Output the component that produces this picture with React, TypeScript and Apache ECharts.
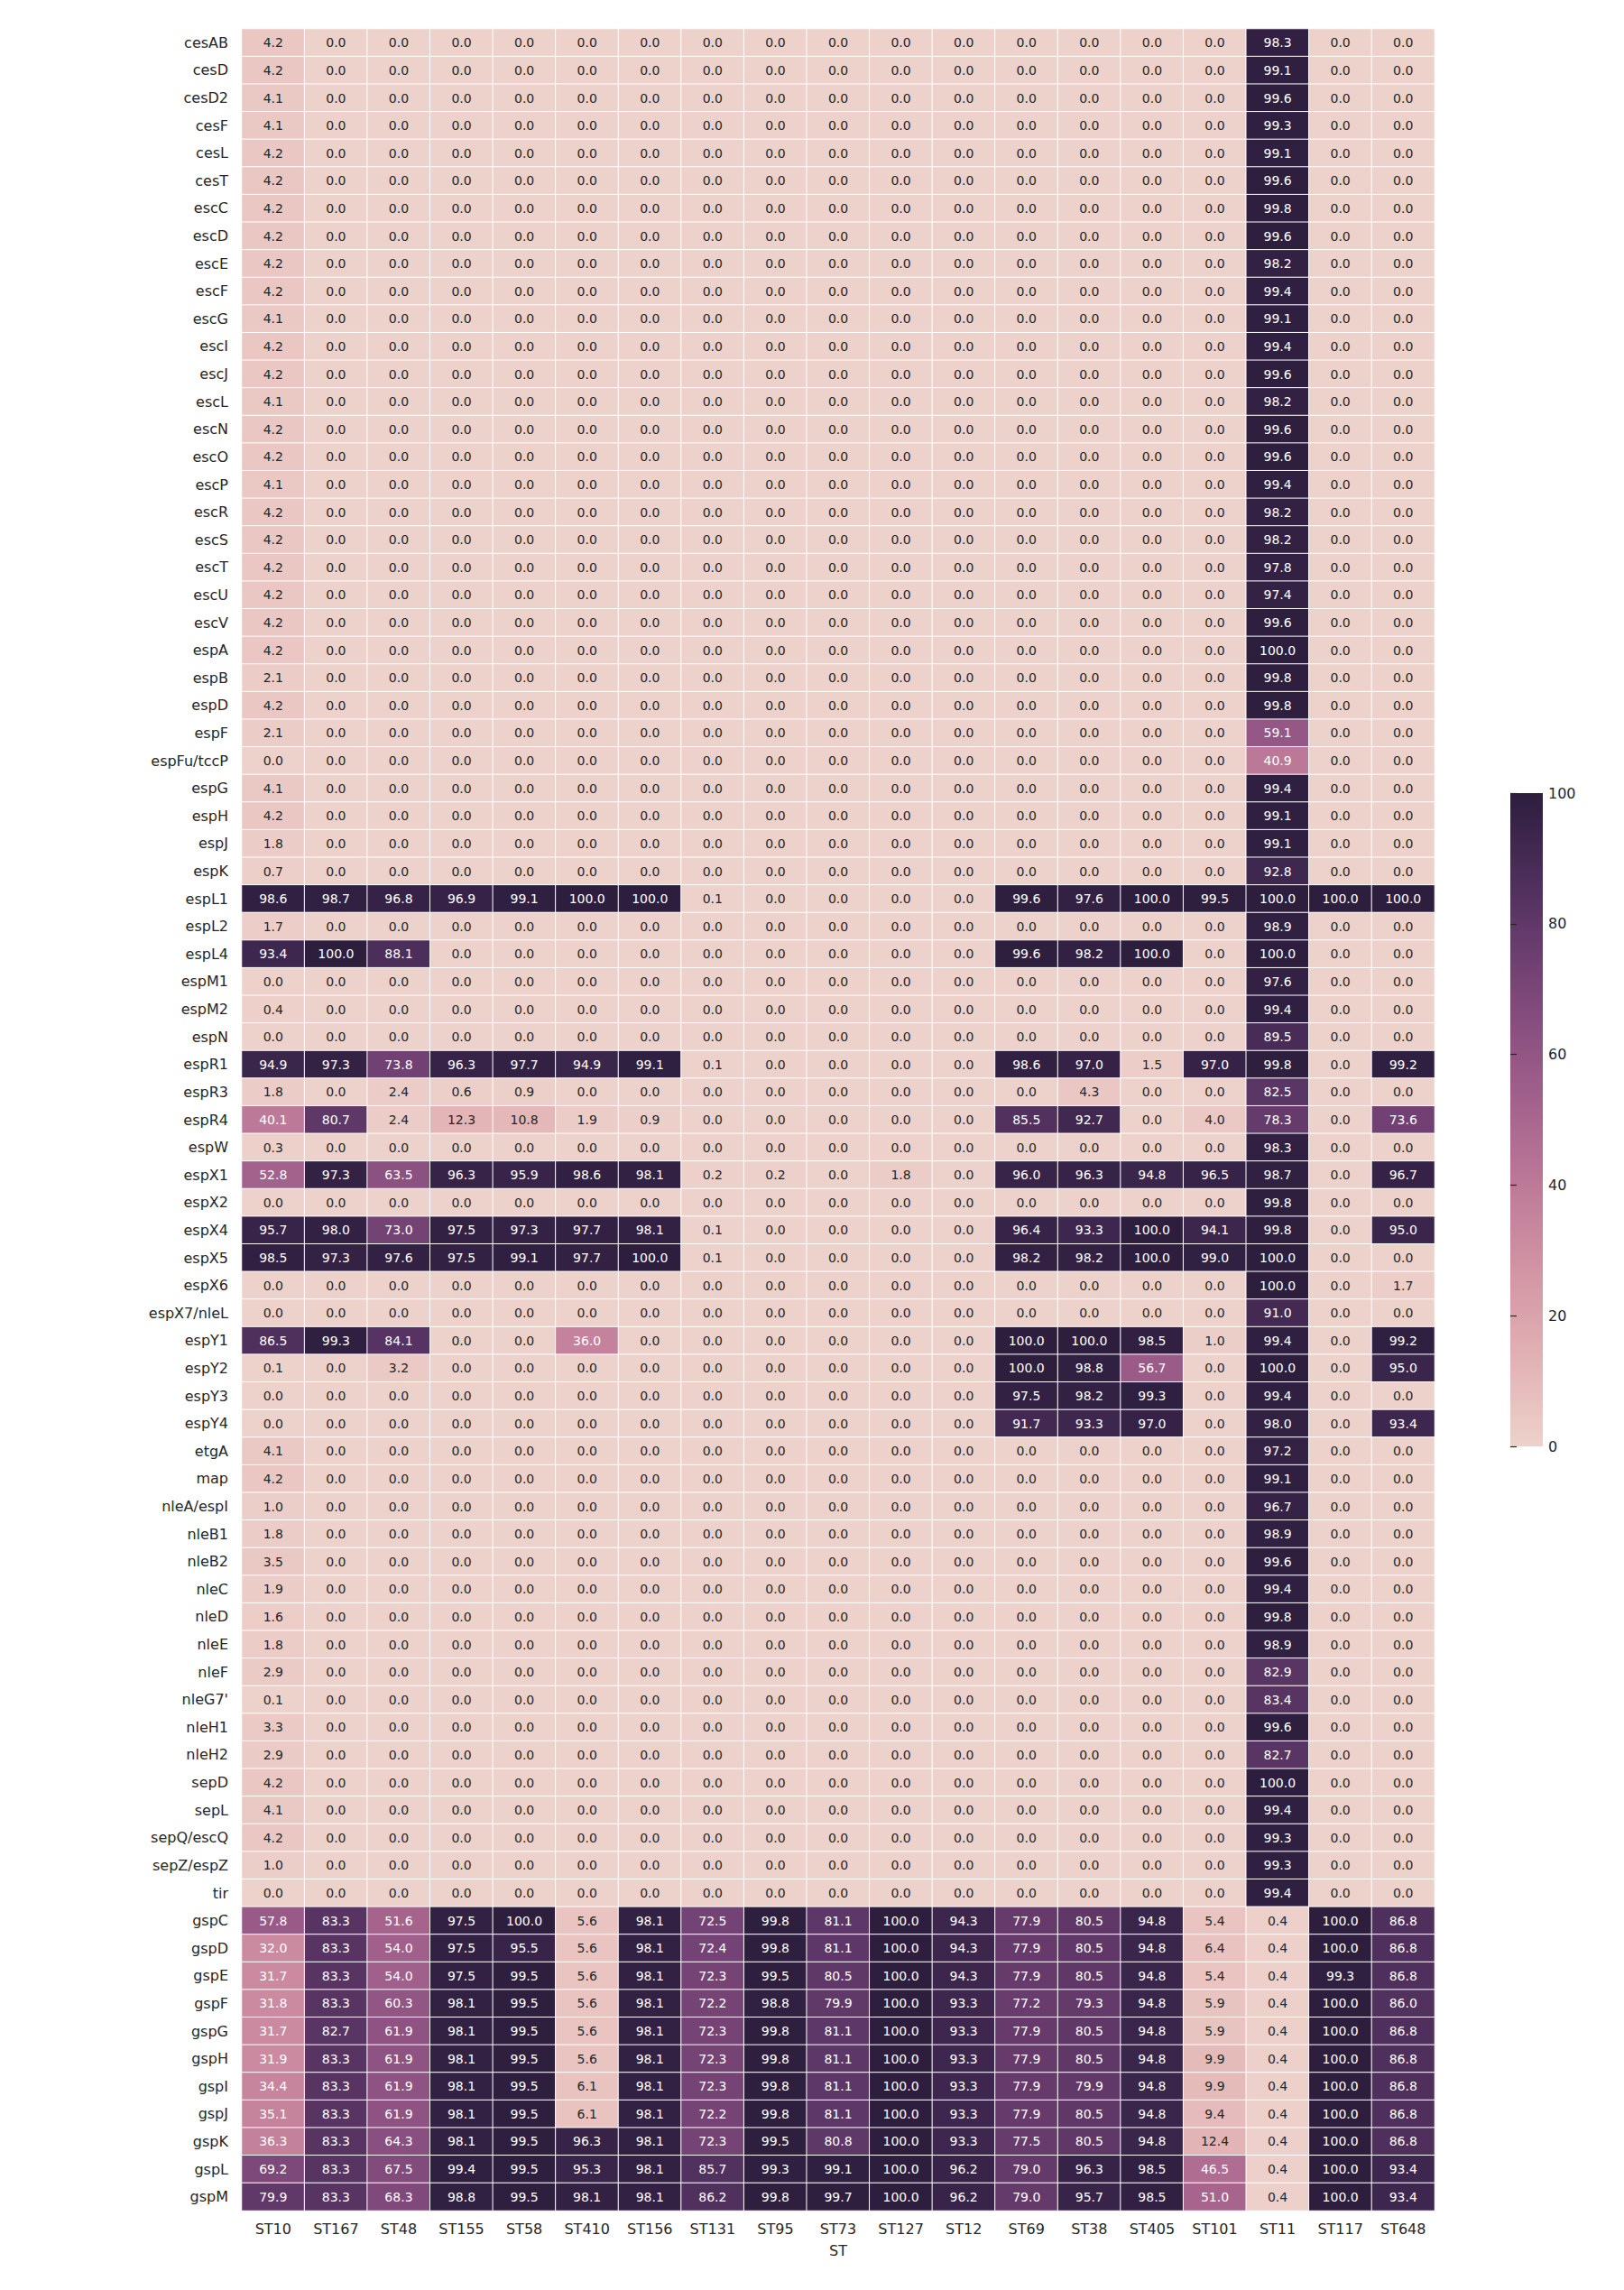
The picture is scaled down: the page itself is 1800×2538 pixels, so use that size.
import React, { useEffect, useRef } from "react";
import * as echarts from "echarts";

const genes = [
  "cesAB", "cesD", "cesD2", "cesF", "cesL", "cesT", "escC", "escD", "escE", "escF",
  "escG", "escI", "escJ", "escL", "escN", "escO", "escP", "escR", "escS", "escT",
  "escU", "escV", "espA", "espB", "espD", "espF", "espFu/tccP", "espG", "espH", "espJ",
  "espK", "espL1", "espL2", "espL4", "espM1", "espM2", "espN", "espR1", "espR3", "espR4",
  "espW", "espX1", "espX2", "espX4", "espX5", "espX6", "espX7/nleL", "espY1", "espY2", "espY3",
  "espY4", "etgA", "map", "nleA/espI", "nleB1", "nleB2", "nleC", "nleD", "nleE", "nleF",
  "nleG7'", "nleH1", "nleH2", "sepD", "sepL", "sepQ/escQ", "sepZ/espZ", "tir", "gspC", "gspD",
  "gspE", "gspF", "gspG", "gspH", "gspI", "gspJ", "gspK", "gspL", "gspM",
];

const stTypes = [
  "ST10", "ST167", "ST48", "ST155", "ST58", "ST410", "ST156", "ST131", "ST95", "ST73",
  "ST127", "ST12", "ST69", "ST38", "ST405", "ST101", "ST11", "ST117", "ST648",
];

// Each array: one ST column, rows in the order of `genes`
// rows 0-30 (cesAB..espK), 31-50 (espL1..espY4), 51-67 (etgA..tir), 68-78 (gspC..gspM)
const st10 = [
  4.2, 4.2, 4.1, 4.1, 4.2, 4.2, 4.2, 4.2, 4.2, 4.2, 4.1, 4.2, 4.2, 4.1, 4.2, 4.2, 4.1, 4.2, 4.2, 4.2, 4.2, 4.2, 4.2, 2.1, 4.2, 2.1, 0.0, 4.1, 4.2, 1.8, 0.7,
  98.6, 1.7, 93.4, 0.0, 0.4, 0.0, 94.9, 1.8, 40.1, 0.3, 52.8, 0.0, 95.7, 98.5, 0.0, 0.0, 86.5, 0.1, 0.0, 0.0,
  4.1, 4.2, 1.0, 1.8, 3.5, 1.9, 1.6, 1.8, 2.9, 0.1, 3.3, 2.9, 4.2, 4.1, 4.2, 1.0, 0.0,
  57.8, 32.0, 31.7, 31.8, 31.7, 31.9, 34.4, 35.1, 36.3, 69.2, 79.9,
];
const st167 = [
  0, 0, 0, 0, 0, 0, 0, 0, 0, 0, 0, 0, 0, 0, 0, 0, 0, 0, 0, 0, 0, 0, 0, 0, 0, 0, 0, 0, 0, 0, 0,
  98.7, 0, 100.0, 0, 0, 0, 97.3, 0, 80.7, 0, 97.3, 0, 98.0, 97.3, 0, 0, 99.3, 0, 0, 0,
  0, 0, 0, 0, 0, 0, 0, 0, 0, 0, 0, 0, 0, 0, 0, 0, 0,
  83.3, 83.3, 83.3, 83.3, 82.7, 83.3, 83.3, 83.3, 83.3, 83.3, 83.3,
];
const st48 = [
  0, 0, 0, 0, 0, 0, 0, 0, 0, 0, 0, 0, 0, 0, 0, 0, 0, 0, 0, 0, 0, 0, 0, 0, 0, 0, 0, 0, 0, 0, 0,
  96.8, 0, 88.1, 0, 0, 0, 73.8, 2.4, 2.4, 0, 63.5, 0, 73.0, 97.6, 0, 0, 84.1, 3.2, 0, 0,
  0, 0, 0, 0, 0, 0, 0, 0, 0, 0, 0, 0, 0, 0, 0, 0, 0,
  51.6, 54.0, 54.0, 60.3, 61.9, 61.9, 61.9, 61.9, 64.3, 67.5, 68.3,
];
const st155 = [
  0, 0, 0, 0, 0, 0, 0, 0, 0, 0, 0, 0, 0, 0, 0, 0, 0, 0, 0, 0, 0, 0, 0, 0, 0, 0, 0, 0, 0, 0, 0,
  96.9, 0, 0, 0, 0, 0, 96.3, 0.6, 12.3, 0, 96.3, 0, 97.5, 97.5, 0, 0, 0, 0, 0, 0,
  0, 0, 0, 0, 0, 0, 0, 0, 0, 0, 0, 0, 0, 0, 0, 0, 0,
  97.5, 97.5, 97.5, 98.1, 98.1, 98.1, 98.1, 98.1, 98.1, 99.4, 98.8,
];
const st58 = [
  0, 0, 0, 0, 0, 0, 0, 0, 0, 0, 0, 0, 0, 0, 0, 0, 0, 0, 0, 0, 0, 0, 0, 0, 0, 0, 0, 0, 0, 0, 0,
  99.1, 0, 0, 0, 0, 0, 97.7, 0.9, 10.8, 0, 95.9, 0, 97.3, 99.1, 0, 0, 0, 0, 0, 0,
  0, 0, 0, 0, 0, 0, 0, 0, 0, 0, 0, 0, 0, 0, 0, 0, 0,
  100.0, 95.5, 99.5, 99.5, 99.5, 99.5, 99.5, 99.5, 99.5, 99.5, 99.5,
];
const st410 = [
  0, 0, 0, 0, 0, 0, 0, 0, 0, 0, 0, 0, 0, 0, 0, 0, 0, 0, 0, 0, 0, 0, 0, 0, 0, 0, 0, 0, 0, 0, 0,
  100.0, 0, 0, 0, 0, 0, 94.9, 0, 1.9, 0, 98.6, 0, 97.7, 97.7, 0, 0, 36.0, 0, 0, 0,
  0, 0, 0, 0, 0, 0, 0, 0, 0, 0, 0, 0, 0, 0, 0, 0, 0,
  5.6, 5.6, 5.6, 5.6, 5.6, 5.6, 6.1, 6.1, 96.3, 95.3, 98.1,
];
const st156 = [
  0, 0, 0, 0, 0, 0, 0, 0, 0, 0, 0, 0, 0, 0, 0, 0, 0, 0, 0, 0, 0, 0, 0, 0, 0, 0, 0, 0, 0, 0, 0,
  100.0, 0, 0, 0, 0, 0, 99.1, 0, 0.9, 0, 98.1, 0, 98.1, 100.0, 0, 0, 0, 0, 0, 0,
  0, 0, 0, 0, 0, 0, 0, 0, 0, 0, 0, 0, 0, 0, 0, 0, 0,
  98.1, 98.1, 98.1, 98.1, 98.1, 98.1, 98.1, 98.1, 98.1, 98.1, 98.1,
];
const st131 = [
  0, 0, 0, 0, 0, 0, 0, 0, 0, 0, 0, 0, 0, 0, 0, 0, 0, 0, 0, 0, 0, 0, 0, 0, 0, 0, 0, 0, 0, 0, 0,
  0.1, 0, 0, 0, 0, 0, 0.1, 0, 0, 0, 0.2, 0, 0.1, 0.1, 0, 0, 0, 0, 0, 0,
  0, 0, 0, 0, 0, 0, 0, 0, 0, 0, 0, 0, 0, 0, 0, 0, 0,
  72.5, 72.4, 72.3, 72.2, 72.3, 72.3, 72.3, 72.2, 72.3, 85.7, 86.2,
];
const st95 = [
  0, 0, 0, 0, 0, 0, 0, 0, 0, 0, 0, 0, 0, 0, 0, 0, 0, 0, 0, 0, 0, 0, 0, 0, 0, 0, 0, 0, 0, 0, 0,
  0, 0, 0, 0, 0, 0, 0, 0, 0, 0, 0.2, 0, 0, 0, 0, 0, 0, 0, 0, 0,
  0, 0, 0, 0, 0, 0, 0, 0, 0, 0, 0, 0, 0, 0, 0, 0, 0,
  99.8, 99.8, 99.5, 98.8, 99.8, 99.8, 99.8, 99.8, 99.5, 99.3, 99.8,
];
const st73 = [
  0, 0, 0, 0, 0, 0, 0, 0, 0, 0, 0, 0, 0, 0, 0, 0, 0, 0, 0, 0, 0, 0, 0, 0, 0, 0, 0, 0, 0, 0, 0,
  0, 0, 0, 0, 0, 0, 0, 0, 0, 0, 0, 0, 0, 0, 0, 0, 0, 0, 0, 0,
  0, 0, 0, 0, 0, 0, 0, 0, 0, 0, 0, 0, 0, 0, 0, 0, 0,
  81.1, 81.1, 80.5, 79.9, 81.1, 81.1, 81.1, 81.1, 80.8, 99.1, 99.7,
];
const st127 = [
  0, 0, 0, 0, 0, 0, 0, 0, 0, 0, 0, 0, 0, 0, 0, 0, 0, 0, 0, 0, 0, 0, 0, 0, 0, 0, 0, 0, 0, 0, 0,
  0, 0, 0, 0, 0, 0, 0, 0, 0, 0, 1.8, 0, 0, 0, 0, 0, 0, 0, 0, 0,
  0, 0, 0, 0, 0, 0, 0, 0, 0, 0, 0, 0, 0, 0, 0, 0, 0,
  100.0, 100.0, 100.0, 100.0, 100.0, 100.0, 100.0, 100.0, 100.0, 100.0, 100.0,
];
const st12 = [
  0, 0, 0, 0, 0, 0, 0, 0, 0, 0, 0, 0, 0, 0, 0, 0, 0, 0, 0, 0, 0, 0, 0, 0, 0, 0, 0, 0, 0, 0, 0,
  0, 0, 0, 0, 0, 0, 0, 0, 0, 0, 0, 0, 0, 0, 0, 0, 0, 0, 0, 0,
  0, 0, 0, 0, 0, 0, 0, 0, 0, 0, 0, 0, 0, 0, 0, 0, 0,
  94.3, 94.3, 94.3, 93.3, 93.3, 93.3, 93.3, 93.3, 93.3, 96.2, 96.2,
];
const st69 = [
  0, 0, 0, 0, 0, 0, 0, 0, 0, 0, 0, 0, 0, 0, 0, 0, 0, 0, 0, 0, 0, 0, 0, 0, 0, 0, 0, 0, 0, 0, 0,
  99.6, 0, 99.6, 0, 0, 0, 98.6, 0, 85.5, 0, 96.0, 0, 96.4, 98.2, 0, 0, 100.0, 100.0, 97.5, 91.7,
  0, 0, 0, 0, 0, 0, 0, 0, 0, 0, 0, 0, 0, 0, 0, 0, 0,
  77.9, 77.9, 77.9, 77.2, 77.9, 77.9, 77.9, 77.9, 77.5, 79.0, 79.0,
];
const st38 = [
  0, 0, 0, 0, 0, 0, 0, 0, 0, 0, 0, 0, 0, 0, 0, 0, 0, 0, 0, 0, 0, 0, 0, 0, 0, 0, 0, 0, 0, 0, 0,
  97.6, 0, 98.2, 0, 0, 0, 97.0, 4.3, 92.7, 0, 96.3, 0, 93.3, 98.2, 0, 0, 100.0, 98.8, 98.2, 93.3,
  0, 0, 0, 0, 0, 0, 0, 0, 0, 0, 0, 0, 0, 0, 0, 0, 0,
  80.5, 80.5, 80.5, 79.3, 80.5, 80.5, 79.9, 80.5, 80.5, 96.3, 95.7,
];
const st405 = [
  0, 0, 0, 0, 0, 0, 0, 0, 0, 0, 0, 0, 0, 0, 0, 0, 0, 0, 0, 0, 0, 0, 0, 0, 0, 0, 0, 0, 0, 0, 0,
  100.0, 0, 100.0, 0, 0, 0, 1.5, 0, 0, 0, 94.8, 0, 100.0, 100.0, 0, 0, 98.5, 56.7, 99.3, 97.0,
  0, 0, 0, 0, 0, 0, 0, 0, 0, 0, 0, 0, 0, 0, 0, 0, 0,
  94.8, 94.8, 94.8, 94.8, 94.8, 94.8, 94.8, 94.8, 94.8, 98.5, 98.5,
];
const st101 = [
  0, 0, 0, 0, 0, 0, 0, 0, 0, 0, 0, 0, 0, 0, 0, 0, 0, 0, 0, 0, 0, 0, 0, 0, 0, 0, 0, 0, 0, 0, 0,
  99.5, 0, 0, 0, 0, 0, 97.0, 0, 4.0, 0, 96.5, 0, 94.1, 99.0, 0, 0, 1.0, 0, 0, 0,
  0, 0, 0, 0, 0, 0, 0, 0, 0, 0, 0, 0, 0, 0, 0, 0, 0,
  5.4, 6.4, 5.4, 5.9, 5.9, 9.9, 9.9, 9.4, 12.4, 46.5, 51.0,
];
const st11 = [
  98.3, 99.1, 99.6, 99.3, 99.1, 99.6, 99.8, 99.6, 98.2, 99.4, 99.1, 99.4, 99.6, 98.2, 99.6, 99.6, 99.4, 98.2, 98.2, 97.8, 97.4, 99.6, 100.0, 99.8, 99.8, 59.1, 40.9, 99.4, 99.1, 99.1, 92.8,
  100.0, 98.9, 100.0, 97.6, 99.4, 89.5, 99.8, 82.5, 78.3, 98.3, 98.7, 99.8, 99.8, 100.0, 100.0, 91.0, 99.4, 100.0, 99.4, 98.0,
  97.2, 99.1, 96.7, 98.9, 99.6, 99.4, 99.8, 98.9, 82.9, 83.4, 99.6, 82.7, 100.0, 99.4, 99.3, 99.3, 99.4,
  0.4, 0.4, 0.4, 0.4, 0.4, 0.4, 0.4, 0.4, 0.4, 0.4, 0.4,
];
const st117 = [
  0, 0, 0, 0, 0, 0, 0, 0, 0, 0, 0, 0, 0, 0, 0, 0, 0, 0, 0, 0, 0, 0, 0, 0, 0, 0, 0, 0, 0, 0, 0,
  100.0, 0, 0, 0, 0, 0, 0, 0, 0, 0, 0, 0, 0, 0, 0, 0, 0, 0, 0, 0,
  0, 0, 0, 0, 0, 0, 0, 0, 0, 0, 0, 0, 0, 0, 0, 0, 0,
  100.0, 100.0, 99.3, 100.0, 100.0, 100.0, 100.0, 100.0, 100.0, 100.0, 100.0,
];
const st648 = [
  0, 0, 0, 0, 0, 0, 0, 0, 0, 0, 0, 0, 0, 0, 0, 0, 0, 0, 0, 0, 0, 0, 0, 0, 0, 0, 0, 0, 0, 0, 0,
  100.0, 0, 0, 0, 0, 0, 99.2, 0, 73.6, 0, 96.7, 0, 95.0, 0, 1.7, 0, 99.2, 95.0, 0, 93.4,
  0, 0, 0, 0, 0, 0, 0, 0, 0, 0, 0, 0, 0, 0, 0, 0, 0,
  86.8, 86.8, 86.8, 86.0, 86.8, 86.8, 86.8, 86.8, 86.8, 93.4, 93.4,
];

const columns = [
  st10, st167, st48, st155, st58, st410, st156, st131, st95, st73,
  st127, st12, st69, st38, st405, st101, st11, st117, st648,
];

const colorbarMin = 0;
const colorbarMax = 100;
const colorbarStep = 20;

// seaborn cubehelix_palette(as_cmap=True) colour function
function cubehelix(x: number): [number, number, number] {
  const start = 0, rot = 0.4, gamma = 1.0, hue = 0.8;
  const xg = Math.pow(x, gamma);
  const a = (hue * xg * (1 - xg)) / 2;
  const phi = 2 * Math.PI * (start / 3 + rot * x);
  const c = Math.cos(phi), s = Math.sin(phi);
  const clip = (v: number) => Math.max(0, Math.min(1, v));
  return [
    clip(xg + a * (-0.14861 * c + 1.78277 * s)),
    clip(xg + a * (-0.29227 * c - 0.90649 * s)),
    clip(xg + a * (1.97294 * c)),
  ];
}

const N = 256;
const paletteRGB: [number, number, number][] = [];
for (let i = 0; i < N; i++) {
  paletteRGB.push(cubehelix(0.85 + ((0.15 - 0.85) * i) / (N - 1)));
}
const toHex = (rgb: [number, number, number]) =>
  "#" + rgb.map((v) => Math.round(v * 255).toString(16).padStart(2, "0")).join("");
const paletteHex = paletteRGB.map(toHex);

function lookupRGB(v: number) {
  const t = (v - colorbarMin) / (colorbarMax - colorbarMin);
  const idx = Math.max(0, Math.min(N - 1, Math.floor(t * N)));
  return paletteRGB[idx];
}
function luminance(rgb: [number, number, number]) {
  const lin = rgb.map((c) => (c <= 0.03928 ? c / 12.92 : Math.pow((c + 0.055) / 1.055, 2.4)));
  return 0.2126 * lin[0] + 0.7152 * lin[1] + 0.0722 * lin[2];
}

const FONT = "DejaVu Sans";
const TXT = "#262626";

export default function App() {
  const ref = useRef<HTMLDivElement>(null);
  useEffect(() => {
    document.body.style.margin = "0";
    if (!ref.current) return;
    const chart = echarts.init(ref.current, undefined, { renderer: "svg" });

    const data: any[] = [];
    columns.forEach((col, xi) => {
      col.forEach((v, yi) => {
        const lum = luminance(lookupRGB(v));
        data.push({
          value: [xi, yi, v],
          label: { color: lum > 0.408 ? TXT : "#ffffff" },
        });
      });
    });

    const gridLeft = 268, gridTop = 32, gridW = 1322, gridH = 2418;
    const cbLeft = 1674, cbTop = 879, cbW = 36, cbH = 724;

    const stops = [];
    for (let i = 0; i <= 32; i++) {
      const v = colorbarMax - ((colorbarMax - colorbarMin) * i) / 32;
      stops.push({ offset: i / 32, color: toHex(lookupRGB(Math.min(v, 99.99))) });
    }

    chart.setOption({
      animation: false,
      backgroundColor: "#ffffff",
      textStyle: { fontFamily: FONT },
      grid: [
        { left: gridLeft, top: gridTop, width: gridW, height: gridH },
        { left: cbLeft, top: cbTop, width: cbW, height: cbH },
      ],
      xAxis: [
        {
          type: "category",
          data: stTypes,
          gridIndex: 0,
          position: "bottom",
          axisLine: { show: false },
          axisTick: { show: false },
          splitLine: { show: false },
          axisLabel: { fontSize: 16, color: TXT, fontFamily: FONT, margin: 12 },
          name: "ST",
          nameLocation: "middle",
          nameGap: 36,
          nameTextStyle: { fontSize: 16, color: TXT, fontFamily: FONT },
        },
        { type: "value", gridIndex: 1, show: false, min: 0, max: 1 },
      ],
      yAxis: [
        {
          type: "category",
          data: genes,
          gridIndex: 0,
          inverse: true,
          axisLine: { show: false },
          axisTick: { show: false },
          splitLine: { show: false },
          axisLabel: { fontSize: 16, color: TXT, fontFamily: FONT, margin: 15 },
        },
        {
          type: "value",
          gridIndex: 1,
          position: "right",
          min: colorbarMin,
          max: colorbarMax,
          interval: colorbarStep,
          axisLine: { show: false },
          axisTick: { show: true, length: 7, lineStyle: { color: TXT, width: 1.2 } },
          splitLine: { show: false },
          axisLabel: { fontSize: 16, color: TXT, fontFamily: FONT, margin: 6 },
        },
      ],
      visualMap: {
        type: "continuous",
        show: false,
        min: colorbarMin,
        max: colorbarMax,
        dimension: 2,
        seriesIndex: 0,
        inRange: { color: paletteHex },
      },
      graphic: [
        {
          type: "rect",
          shape: { x: cbLeft, y: cbTop, width: cbW, height: cbH },
          style: { fill: new echarts.graphic.LinearGradient(0, 0, 0, 1, stops) },
          z: 0,
        },
      ],
      series: [
        {
          type: "heatmap",
          xAxisIndex: 0,
          yAxisIndex: 0,
          data,
          itemStyle: { borderColor: "#ffffff", borderWidth: 1 },
          emphasis: { disabled: true },
          label: {
            show: true,
            fontSize: 14,
            fontFamily: FONT,
            formatter: (p: any) => Number(p.value[2]).toFixed(1),
          },
        },
      ],
    });
    return () => chart.dispose();
  }, []);
  return <div ref={ref} style={{ width: 1800, height: 2538 }} />;
}
